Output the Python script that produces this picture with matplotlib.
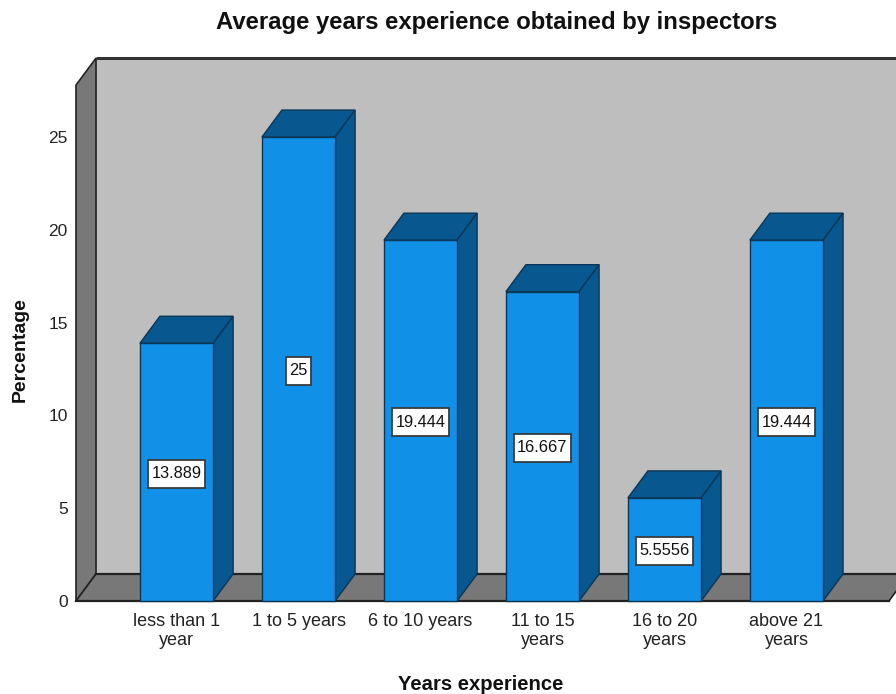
import matplotlib
matplotlib.use("Agg")
import matplotlib.pyplot as plt
from matplotlib.patches import Polygon, Rectangle

plt.rcParams['font.family'] = ['Liberation Sans', 'DejaVu Sans']

categories = ['less than 1\nyear', '1 to 5 years', '6 to 10 years',
              '11 to 15\nyears', '16 to 20\nyears', 'above 21\nyears']
percentages = [13.889, 25, 19.444, 16.667, 5.5556, 19.444]
value_labels = ['13.889', '25', '19.444', '16.667', '5.5556', '19.444']
y_ticks = [0, 5, 10, 15, 20, 25]

FRONT = '#1190E8'
SHADE = '#08578F'
EDGE = '#0B3655'
WALL = '#BEBEBE'
SIDE = '#787878'
LINE = '#222222'

W, H = 896, 694
fig = plt.figure(figsize=(W / 100, H / 100), dpi=100, facecolor='white')

# axes run from the left front edge of the box to the right side of the figure
ax = fig.add_axes([76 / W, (H - 601) / H, (W - 76) / W, (601 - 58) / H])
ax.set_xlim(-0.824, 5.898)
ax.set_ylim(0, 29.26)
for s in ax.spines.values():
    s.set_visible(False)

# depth of the 3d effect, in data units
dx = 0.164
dy = 1.455
box_top = 27.8
x_left = -0.824
x_right = 5.84

# back wall, side wall and floor
ax.add_patch(Polygon([(x_left + dx, dy), (x_right + dx, dy), (x_right + dx, dy + box_top),
                      (x_left + dx, dy + box_top)], fc=WALL, ec='none', zorder=1, clip_on=True))
ax.add_patch(Polygon([(x_left, 0), (x_left + dx, dy), (x_left + dx, dy + box_top), (x_left, box_top)],
                     fc=SIDE, ec=LINE, lw=1.2, zorder=1.5, clip_on=False))
ax.add_patch(Polygon([(x_left, 0), (x_right, 0), (x_right + dx, dy), (x_left + dx, dy)],
                     fc=SIDE, ec=LINE, lw=1.2, zorder=1.5, clip_on=True))
ax.plot([x_left + dx, 5.898], [dy + box_top, dy + box_top], color='#333333', lw=2.2, zorder=2,
        solid_capstyle='butt', clip_on=False)
ax.plot([x_left + dx, 5.898], [dy, dy], color=LINE, lw=1.6, zorder=2)
ax.plot([x_left, x_right], [0, 0], color=LINE, lw=1.6, zorder=2, clip_on=False)

bar_w = 0.6
xs = list(range(len(categories)))
ax.bar(xs, percentages, width=bar_w, color=FRONT, edgecolor=EDGE, linewidth=1.0, zorder=4, clip_on=False)

renderer = fig.canvas.get_renderer()
for x, v, lab in zip(xs, percentages, value_labels):
    l = x - bar_w / 2
    r = x + bar_w / 2
    # top and right faces
    ax.add_patch(Polygon([(l, v), (r, v), (r + dx, v + dy), (l + dx, v + dy)],
                         fc=SHADE, ec=EDGE, lw=1.0, zorder=3))
    ax.add_patch(Polygon([(r, 0), (r + dx, dy), (r + dx, v + dy), (r, v)],
                         fc=SHADE, ec=EDGE, lw=1.0, zorder=3))
    txt = ax.text(x, v / 2, lab, ha='center', va='center', fontsize=11.8, color='#111111', zorder=6)
    # label box sized around the text, taller than it is padded sideways
    bb = txt.get_window_extent(renderer)
    cy = (bb.y0 + bb.y1) / 2 - 1.5
    fig.add_artist(Rectangle((bb.x0 - 3.5, cy - 14), bb.width + 7, 28, transform=None,
                             fc='white', ec='#3a3a3a', lw=1.3, zorder=5))
    txt.remove()
    fig.text(bb.x0 / W, cy / H, lab, ha='left', va='center', fontsize=11.8, color='#111111', zorder=6)

ax.set_xticks(xs)
ax.set_xticklabels(categories, fontsize=13, color='#222222', linespacing=1.12)
ax.set_yticks(y_ticks)
ax.set_yticklabels([str(t) for t in y_ticks], fontsize=12.5, color='#222222')
ax.tick_params(axis='both', length=0)
ax.tick_params(axis='x', pad=9)
ax.tick_params(axis='y', pad=6)

fig.text(497 / W, 1 - 23 / H, 'Average years experience obtained by inspectors',
         ha='center', va='center', fontsize=17.2, fontweight='bold', color='#111111')
fig.text(481 / W, 1 - 685 / H, 'Years experience', ha='center', va='center',
         fontsize=14.6, fontweight='bold', color='#111111')
fig.text(20 / W, 1 - 350 / H, 'Percentage', ha='center', va='center', rotation=90,
         fontsize=14, fontweight='bold', color='#111111')

fig.savefig('out.png', dpi=100)
